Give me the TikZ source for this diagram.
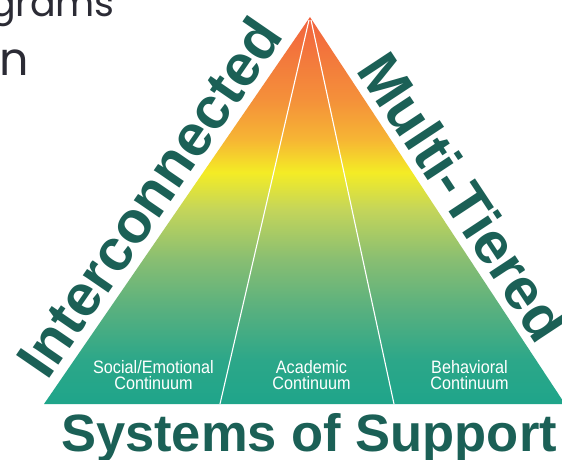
\documentclass[tikz,border=0pt]{standalone}
\usepackage{fontspec}
\setmainfont{Liberation Sans}
\newfontfamily\condfam{Liberation Sans}[FakeStretch=0.9]
\newfontfamily\popfam{Poppins}
\definecolor{mtsdark}{HTML}{1B6056}
\definecolor{slidegray}{HTML}{2B2B35}
\definecolor{cz}{HTML}{1FA58A}
\definecolor{ca}{HTML}{2CA789}
\definecolor{cb}{HTML}{58B07F}
\definecolor{cc}{HTML}{88BE72}
\definecolor{cd}{HTML}{C4D55A}
\definecolor{ce}{HTML}{F4EC25}
\definecolor{cf}{HTML}{F6B534}
\definecolor{cg}{HTML}{F4903A}
\definecolor{ch}{HTML}{F2623E}
\pgfdeclareverticalshading{pyr}{100bp}{color(0bp)=(cz); color(25bp)=(cz); color(30.70bp)=(ca); color(37.18bp)=(cb); color(43.65bp)=(cc); color(50.13bp)=(cd); color(54.92bp)=(ce); color(59.20bp)=(cf); color(64.38bp)=(cg); color(75bp)=(ch); color(100bp)=(ch)}
\begin{document}
\begin{tikzpicture}[x=1pt,y=-1pt,
  bigtxt/.style={inner sep=0pt, text=mtsdark, font=\fontsize{58.5}{58.5}\selectfont\bfseries},
  lbl/.style={inner sep=0pt, text=white, align=center, font=\condfam\fontsize{18}{16.7}\selectfont},
  divider/.style={draw=white, line width=1.1pt},
  slide/.style={inner sep=0pt, text=slidegray}]
\useasboundingbox (0,0) rectangle (562,460);
\clip (0,0) rectangle (562,460);
\fill[white] (0,0) rectangle (562,460);
% cut-off slide text
\node[slide, font=\popfam\fontsize{38}{38}\selectfont, anchor=base east] (grams) at (115,17) {grams};
\node[slide, font=\popfam\fontsize{46}{46}\selectfont, anchor=base east] (on) at (29,76) {on};
% pyramid
\coordinate (A) at (310,17);
\coordinate (L) at (44,404);
\coordinate (R) at (565,404);
\shade[shading=pyr] (A) -- (L) -- (R) -- cycle;
\coordinate (t1) at (309,20);
\coordinate (b1) at (220,404);
\coordinate (t2) at (311,20);
\coordinate (b2) at (394,404);
\draw[divider] (t1) -- (b1);
\draw[divider] (t2) -- (b2);
% labels
\node[lbl] (se) at (153.5,375) {Social/Emotional\\Continuum};
\node[lbl] (ac) at (311.5,375) {Academic\\Continuum};
\node[lbl] (be) at (469.5,375) {Behavioral\\Continuum};
% edge texts
\node[bigtxt, rotate=55.5, anchor=base] (inter) at (166,209) {Interconnected};
\node[bigtxt, rotate=-56.6, anchor=base] (multi) at (446.5,208) {Multi-Tiered};
\node[inner sep=0pt, text=mtsdark, font=\fontsize{52.5}{52.5}\selectfont\bfseries, anchor=base] (sos) at (309,451) {Systems of Support};
\end{tikzpicture}
\end{document}
